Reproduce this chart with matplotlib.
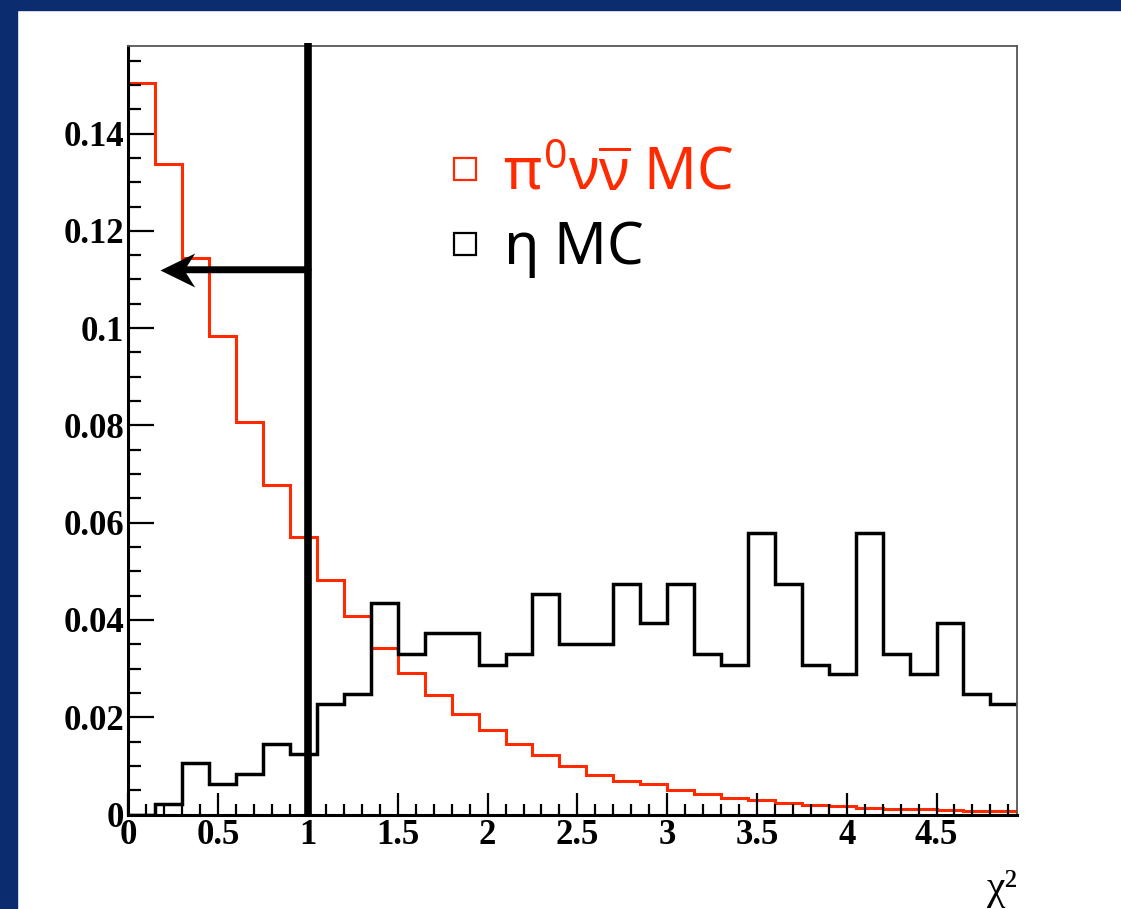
import numpy as np
import matplotlib
matplotlib.use("Agg")
import matplotlib.pyplot as plt
from matplotlib.path import Path
from matplotlib.lines import Line2D
from matplotlib.patches import Rectangle

# chi2 distributions, 33 bins of width 0.15 starting at 0
bin_width = 0.15
pi0nunu = [0.1504, 0.1337, 0.1145, 0.0983, 0.0807, 0.0678, 0.0571, 0.0482, 0.0408, 0.0342,
           0.0290, 0.0245, 0.0206, 0.0173, 0.0146, 0.0123, 0.0100, 0.0081, 0.0070, 0.0062,
           0.0050, 0.0043, 0.0034, 0.0029, 0.0023, 0.0019, 0.0017, 0.0014, 0.0012, 0.0011,
           0.0010, 0.0008, 0.0007]
eta = [0.0, 0.0021, 0.0105, 0.0062, 0.0084, 0.0146, 0.0125, 0.0228, 0.0247, 0.0435,
       0.0331, 0.0373, 0.0373, 0.0308, 0.0331, 0.0454, 0.0351, 0.0351, 0.0475, 0.0393,
       0.0475, 0.0331, 0.0308, 0.0579, 0.0475, 0.0308, 0.0288, 0.0579, 0.0331, 0.0288,
       0.0393, 0.0247, 0.0227]
labels = [r"$\pi^0\nu\overline{\nu}$ MC", r"$\eta$ MC"]
colors = ["#ff2a00", "black"]

# selection cut and the arrow showing the accepted side
cut_value = 1.0
arrow_level = 0.112
arrow_tip = 0.175

ymax = 0.158
xticks = [0, 0.5, 1, 1.5, 2, 2.5, 3, 3.5, 4, 4.5]
yticks = [0, 0.02, 0.04, 0.06, 0.08, 0.1, 0.12, 0.14]

plt.rcParams["mathtext.fontset"] = "custom"
plt.rcParams["mathtext.rm"] = "Noto Sans"
plt.rcParams["mathtext.it"] = "Noto Sans"
plt.rcParams["mathtext.bf"] = "Noto Sans:bold"

fig = plt.figure(figsize=(11.21, 9.09), dpi=100)
# slide frame
fig.patches.append(Rectangle((0, 0), 17 / 1121, 1, transform=fig.transFigure,
                             color="#0b2d6f", zorder=-5))
fig.patches.append(Rectangle((0, 1 - 10 / 909), 1, 10 / 909, transform=fig.transFigure,
                             color="#0b2d6f", zorder=-5))

ax = fig.add_axes([0.1146, 0.1039, 0.7929, 0.8455])

edges = np.arange(len(pi0nunu) + 1) * bin_width
ax.stairs(pi0nunu, edges, baseline=None, color=colors[0], lw=2.2, zorder=2)
ax.stairs(eta, edges, baseline=None, color=colors[1], lw=2.5, zorder=2.2)

ax.set_xlim(edges[0], edges[-1])
ax.set_ylim(0, ymax)

# cut line and arrow
ax.vlines(cut_value, 0, 1.004, transform=ax.get_xaxis_transform(), color="black",
          lw=5.5, clip_on=False, zorder=3)
ax.annotate("", xy=(arrow_tip, arrow_level), xytext=(cut_value, arrow_level),
            arrowprops=dict(arrowstyle="-", lw=5, color="black", shrinkA=0, shrinkB=14),
            zorder=3)
head = Path([(0, 0), (1, 0.49), (0.69, 0), (1, -0.49), (0, 0)],
            [Path.MOVETO, Path.LINETO, Path.LINETO, Path.LINETO, Path.CLOSEPOLY])
ax.plot([arrow_tip], [arrow_level], marker=head, ms=50, color="black", mew=0,
        ls="none", zorder=3)

# axes style
ax.set_axisbelow(False)
for side in ["left", "bottom"]:
    ax.spines[side].set_linewidth(2.2)
for side in ["top", "right"]:
    ax.spines[side].set_linewidth(1.3)
    ax.spines[side].set_color("#555555")

ax.set_xticks(xticks)
ax.set_xticklabels([f"{t:g}" for t in xticks])
ax.set_xticks(np.arange(0, edges[-1], 0.1), minor=True)
ax.set_yticks(yticks)
ax.set_yticklabels([f"{t:g}" for t in yticks])
ax.set_yticks(np.arange(0, ymax, 0.005), minor=True)
ax.tick_params(axis="x", which="major", direction="in", length=16, width=1.6, pad=3)
ax.tick_params(axis="x", which="minor", direction="in", length=8, width=1.6)
ax.tick_params(axis="y", which="major", direction="in", length=19, width=1.6, pad=3)
ax.tick_params(axis="y", which="minor", direction="in", length=9.5, width=1.6)
for lab in ax.get_xticklabels() + ax.get_yticklabels():
    lab.set_fontfamily("Liberation Serif")
    lab.set_fontweight("bold")
    lab.set_fontsize(25)

ax.set_xlabel("χ²", loc="right", fontfamily="Liberation Serif", fontsize=30, labelpad=13)

handles = [Line2D([], [], ls="none", marker="s", ms=16, mfc="none", mec=c, mew=1.6)
           for c in colors]
leg = ax.legend(handles, labels, loc="upper left", bbox_to_anchor=(0.359, 0.872),
                frameon=False, borderpad=0, borderaxespad=0, handlelength=0.6,
                handletextpad=0.35, labelspacing=0.27,
                prop={"family": "Noto Sans", "size": 42})
for txt, c in zip(leg.get_texts(), colors):
    txt.set_color(c)

fig.savefig("out.png", dpi=100)
